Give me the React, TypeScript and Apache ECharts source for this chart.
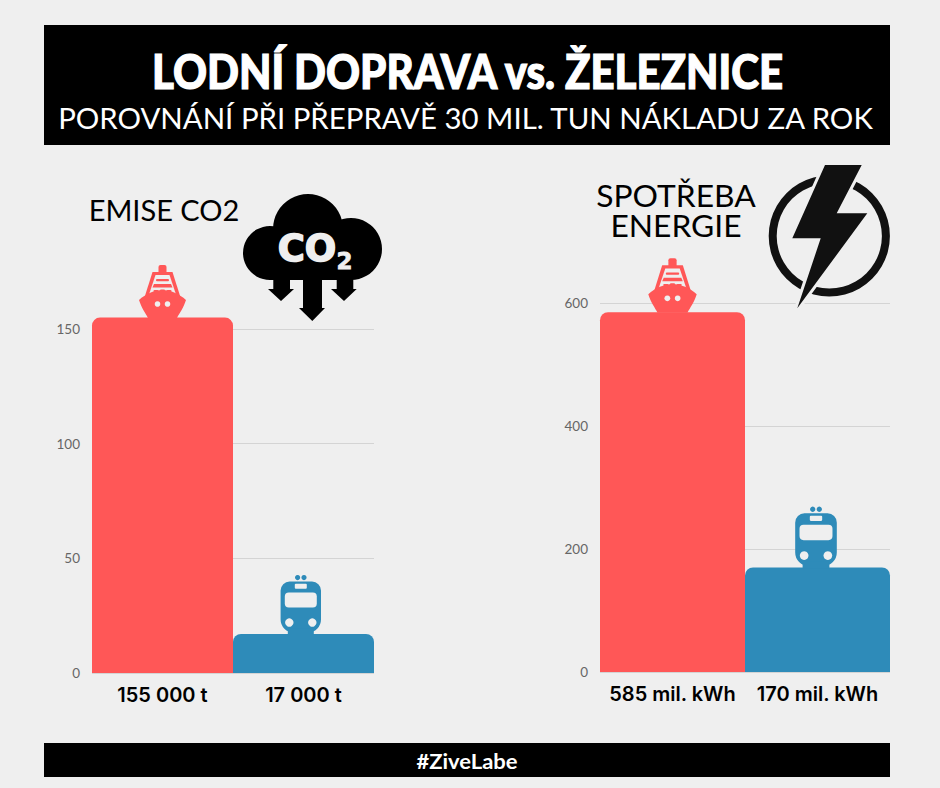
import React, { useEffect, useRef } from "react";
import * as echarts from "echarts";

const emiseLabels = ["155 000 t", "17 000 t"];
const emiseValues = [155, 17];
const energieLabels = ["585 mil. kWh", "170 mil. kWh"];
const energieValues = [585, 170];
const barColors = ["#ff5757", "#2e8bb9"];

const BG = "#efefef";
const Z = 10;

echarts.graphic.registerShape(
  "shipHull",
  echarts.graphic.extendPath("M0 -28 C8 -28 17 -24 23.5 -18 C21 -10 17 -5 14.5 0 L-14.5 0 C-17 -5 -21 -10 -23.5 -18 C-17 -24 -8 -28 0 -28Z", {})
);

const poly = (points: number[][], fill: string) => ({ type: "polygon", z: Z, shape: { points }, style: { fill } });
const rect = (x: number, y: number, width: number, height: number, r: number | number[], fill: string) => ({
  type: "rect", z: Z, shape: { x, y, width, height, r }, style: { fill },
});
const circle = (cx: number, cy: number, r: number, fill: string) => ({ type: "circle", z: Z, shape: { cx, cy, r }, style: { fill } });
const text = (
  x: number, y: number, t: string, size: number, weight: number | string, fill: string,
  extra: { family?: string; scaleX?: number; scaleY?: number; stroke?: number; lineHeight?: number } = {}
) => ({
  type: "text", z: Z + 1, x, y, scaleX: extra.scaleX ?? 1, scaleY: extra.scaleY ?? 1,
  style: {
    text: t, fontSize: size, fontWeight: weight, fontFamily: extra.family ?? "Lato", fill,
    align: "center", verticalAlign: "middle",
    ...(extra.lineHeight ? { lineHeight: extra.lineHeight } : {}),
    ...(extra.stroke ? { stroke: fill, lineWidth: extra.stroke } : {}),
  },
});

function ship(x: number, y: number, s: number) {
  const c = barColors[0];
  return {
    type: "group", x, y, scaleX: s, scaleY: s,
    children: [
      rect(-4, -53, 8, 12, [2, 2, 0, 0], c),
      poly([[-10, -46], [10, -46], [18.5, -19], [-18.5, -19]], c),
      poly([[-7, -43], [7, -43], [14, -22], [-14, -22]], BG),
      rect(-6.5, -39, 13, 2.2, 1, c),
      poly([[-8.5, -34], [8.5, -34], [10, -30.5], [-10, -30.5]], c),
      rect(-9, -28, 5, 2, 1, c),
      rect(-2.5, -28.5, 5, 2, 1, c),
      rect(4, -28, 5, 2, 1, c),
      { type: "shipHull", z: Z, x: 0, y: 0, style: { fill: c } },
      circle(-5, -14, 2.8, BG),
      circle(5, -14, 2.8, BG),
    ],
  };
}

function train(x: number, y: number, s: number) {
  const c = barColors[1];
  return {
    type: "group", x, y, scaleX: s, scaleY: s,
    children: [
      circle(-3.2, -57, 2.6, c),
      circle(3.2, -57, 2.6, c),
      rect(-20.2, -53, 40.4, 51, [9, 9, 13, 13], c),
      rect(-13, -6, 26, 6.5, 0, c),
      rect(-6, -50.7, 12, 5, 1, BG),
      rect(-16, -42, 32, 15, 4, BG),
      circle(-11.5, -12, 4.2, BG),
      circle(11.5, -12, 4.2, BG),
    ],
  };
}

function staticGraphics() {
  const ink = "#000000";
  const bolt = [[825, 165], [861.7, 165], [836.7, 213.3], [867.3, 213.3], [797.3, 308.3], [820.7, 238.3], [792.3, 238.3]];
  return [
    rect(44, 25, 846, 120, 0, ink),
    rect(44, 743, 846, 34, 0, ink),
    text(467.5, 70, "LODNÍ DOPRAVA vs. ŽELEZNICE", 48, 900, "#ffffff", { scaleX: 0.875, stroke: 1.2 }),
    text(465.5, 117, "POROVNÁNÍ PŘI PŘEPRAVĚ 30 MIL. TUN NÁKLADU ZA ROK", 29.4, 400, "#ffffff"),
    text(467, 761, "#ZiveLabe", 20, 700, "#ffffff", { scaleX: 1.1 }),
    text(164, 209, "EMISE CO2", 29, 400, ink),
    text(676, 210, "SPOTŘEBA\nENERGIE", 30, 400, ink, { scaleX: 1.06, lineHeight: 30 }),
    circle(270, 253, 27, ink),
    circle(308, 229, 35, ink),
    circle(351, 249, 31, ink),
    rect(270, 232, 81, 48, 0, ink),
    poly([[273.3, 279], [290, 279], [290, 289], [294, 289], [281, 301], [268, 289], [273.3, 289]], ink),
    poly([[303, 279], [322, 279], [322, 308], [325, 308], [312.3, 321], [299, 308], [303, 308]], ink),
    poly([[336.7, 279], [353.3, 279], [353.3, 289], [356.7, 289], [344, 301], [331, 289], [336.7, 289]], ink),
    text(307, 248, "CO", 37, 700, "#efefef", { family: "DejaVu Sans", stroke: 1.5 }),
    text(344.5, 261, "2", 23, 700, "#efefef", { family: "DejaVu Sans", stroke: 0.8 }),
    { type: "ring", z: Z, shape: { cx: 829.3, cy: 236, r: 60.6, r0: 52.6 }, style: { fill: "#111111" } },
    { type: "polygon", z: Z, shape: { points: bolt }, style: { fill: "#111111", stroke: BG, lineWidth: 6, lineJoin: "miter" } },
    poly(bolt, "#111111"),
  ];
}

const axisLabelTick = { color: "#666666", fontSize: 13.5, fontFamily: "Lato", fontWeight: 400, margin: 12 };
const axisLabelCat = { color: "#000000", fontSize: 20, fontFamily: "Inter", fontWeight: 600, margin: 12, interval: 0, hideOverlap: false };

export default function App() {
  const ref = useRef<HTMLDivElement>(null);
  useEffect(() => {
    document.body.style.margin = "0";
    const chart = echarts.init(ref.current!, null, { renderer: "svg" });
    const mkSeries = (values: number[], i: number) => ({
      type: "bar", xAxisIndex: i, yAxisIndex: i, barWidth: "100%", barGap: "0%", clip: false,
      data: values.map((value, k) => ({ value, itemStyle: { color: barColors[k], borderRadius: [8, 8, 0, 0] } })),
    });
    chart.setOption({
      animation: false,
      backgroundColor: BG,
      grid: [
        { left: 92, top: 329, width: 282, height: 344 },
        { left: 600, top: 303, width: 290, height: 369 },
      ],
      xAxis: [emiseLabels, energieLabels].map((data, gridIndex) => ({
        type: "category", gridIndex, data,
        axisLine: { show: false }, axisTick: { show: false }, axisLabel: axisLabelCat,
      })),
      yAxis: [
        { max: 150, interval: 50 },
        { max: 600, interval: 200 },
      ].map((a, gridIndex) => ({
        type: "value", gridIndex, min: 0, ...a,
        axisLine: { show: false }, axisTick: { show: false }, axisLabel: axisLabelTick,
        splitLine: { show: true, lineStyle: { color: "#d4d4d4", width: 1 } },
      })),
      series: [mkSeries(emiseValues, 0), mkSeries(energieValues, 1)],
    });
    const top = (g: number, k: number, v: number) =>
      chart.convertToPixel({ xAxisIndex: g, yAxisIndex: g }, [k, v]) as number[];
    const s0 = top(0, 0, emiseValues[0]);
    const t0 = top(0, 1, emiseValues[1]);
    const s1 = top(1, 0, energieValues[0]);
    const t1 = top(1, 1, energieValues[1]);
    chart.setOption({
      graphic: {
        elements: [
          ...staticGraphics(),
          ship(s0[0], s0[1] + 0.5, 1),
          train(t0[0] - 2.7, t0[1] + 0.5, 1),
          ship(s1[0], s1[1] + 0.5, 1.03),
          train(t1[0] - 1.5, t1[1] + 0.5, 1.03),
        ],
      },
    });
    return () => chart.dispose();
  }, []);
  return <div ref={ref} style={{ width: 940, height: 788 }} />;
}
